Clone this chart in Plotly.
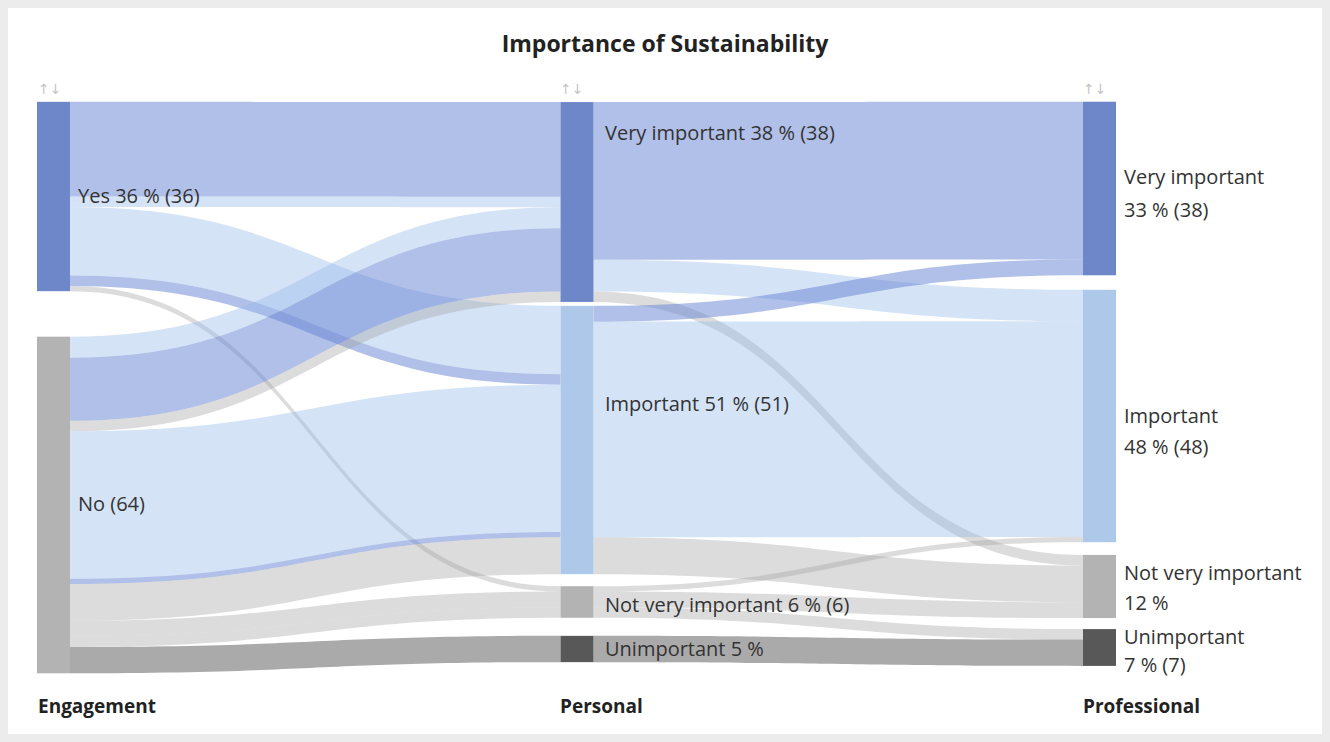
import plotly.graph_objects as go

W, H = 1330, 742

# ---------------- data ----------------
engagement = ["Yes", "No"]
personal = ["Very important", "Important", "Not very important", "Unimportant"]
professional = ["Very important", "Important", "Not very important", "Unimportant"]

# respondents' paths: engagement -> personal -> professional
path_engagement = ["Yes", "Yes", "Yes", "Yes", "Yes",
                   "No", "No", "No", "No", "No", "No", "No", "No", "No"]
path_personal = ["Very important", "Very important", "Important", "Important", "Not very important",
                 "Very important", "Very important", "Very important", "Important", "Important",
                 "Important", "Not very important", "Not very important", "Unimportant"]
path_professional = ["Very important", "Important", "Important", "Very important", "Important",
                     "Important", "Very important", "Not very important", "Important", "Very important",
                     "Not very important", "Not very important", "Unimportant", "Unimportant"]
path_count = [18, 2, 13, 2, 1,
              4, 12, 2, 28, 1, 7, 3, 2, 5]

# node label texts
engagement_labels = ["Yes 36 % (36)", "No (64)"]
personal_labels = ["Very important 38 % (38)", "Important 51 % (51)",
                   "Not very important 6 % (6)", "Unimportant 5 %"]
professional_labels_1 = ["Very important", "Important", "Not very important", "Unimportant"]
professional_labels_2 = ["33 % (38)", "48 % (48)", "12 %", "7 % (7)"]
dimension_labels = ["Engagement", "Personal", "Professional"]
title_text = "Importance of Sustainability"

# ---------------- styles ----------------
node_colors_eng = ["#6d87c9", "#b3b3b3"]
node_colors_cat = ["#6d87c9", "#aec8ea", "#b3b3b3", "#585858"]
link_colors_cat = ["rgba(100,130,210,0.5)", "rgba(150,185,235,0.4)",
                   "rgba(160,160,160,0.37)", "rgba(100,100,100,0.55)"]

# pixel layout of the diagram
dom_left, dom_right, dom_top, dom_bottom = 37, 1116, 102, 673
col_centers_px = [53.5, 577, 1099.5]
eng_centers_px = [196.5, 505]
pers_centers_px = [202, 440, 602, 649]
prof_centers_px = [188.5, 416, 586.5, 647.5]

dw = dom_right - dom_left
dh = dom_bottom - dom_top

n_e, n_p = len(engagement), len(personal)
idx_eng = {c: i for i, c in enumerate(engagement)}
idx_pers = {c: n_e + i for i, c in enumerate(personal)}
idx_prof = {c: n_e + n_p + i for i, c in enumerate(professional)}


def path_color(pers, prof):
    if pers == "Not very important":
        return link_colors_cat[2]
    return link_colors_cat[professional.index(prof)]


src, tgt, val, col = [], [], [], []
# segment 1: engagement -> personal (one band per path)
for e, p, q, c in zip(path_engagement, path_personal, path_professional, path_count):
    src.append(idx_eng[e]); tgt.append(idx_pers[p]); val.append(c); col.append(path_color(p, q))
# segment 2: personal -> professional (aggregated)
agg = {}
for e, p, q, c in zip(path_engagement, path_personal, path_professional, path_count):
    agg[(p, q)] = agg.get((p, q), 0) + c
for (p, q), c in sorted(agg.items(), key=lambda kv: (personal.index(kv[0][0]), professional.index(kv[0][1]))):
    src.append(idx_pers[p]); tgt.append(idx_prof[q]); val.append(c); col.append(path_color(p, q))

node_x = ([(col_centers_px[0] - dom_left) / dw] * n_e +
          [(col_centers_px[1] - dom_left) / dw] * n_p +
          [(col_centers_px[2] - dom_left) / dw] * len(professional))
node_y = ([(c - dom_top) / dh for c in eng_centers_px] +
          [(c - dom_top) / dh for c in pers_centers_px] +
          [(c - dom_top) / dh for c in prof_centers_px])

fig = go.Figure(go.Sankey(
    arrangement="fixed",
    domain=dict(x=[dom_left / W, dom_right / W], y=[1 - dom_bottom / H, 1 - dom_top / H]),
    node=dict(
        label=[""] * (n_e + n_p + len(professional)),
        customdata=engagement + personal + professional,
        hovertemplate="%{customdata}: %{value}<extra></extra>",
        color=node_colors_eng + node_colors_cat + node_colors_cat,
        x=node_x, y=node_y,
        pad=15, thickness=33,
        line=dict(width=0),
    ),
    link=dict(source=src, target=tgt, value=val, color=col,
              line=dict(width=0)),
))

annotations = []
FONT = "Open Sans"
TXT = "#333333"


def ann(text, x, y, size=20, bold=False, color=TXT, xanchor="left", family=FONT):
    annotations.append(dict(
        text=f"<b>{text}</b>" if bold else text,
        x=x / W, y=1 - y / H, xref="paper", yref="paper",
        xanchor=xanchor, yanchor="middle", showarrow=False,
        font=dict(family=family, size=size, color=color)))


# category labels
label_x = [76, 603, 1122]
eng_label_y = [196, 503]
pers_label_y = [133, 403, 604, 648]
prof_label_y1 = [176, 415, 572, 636]
prof_label_y2 = [210, 446, 602, 664]
for t, y in zip(engagement_labels, eng_label_y):
    ann(t, label_x[0], y)
for t, y in zip(personal_labels, pers_label_y):
    ann(t, label_x[1], y)
for t1, t2, y1, y2 in zip(professional_labels_1, professional_labels_2, prof_label_y1, prof_label_y2):
    ann(t1, label_x[2], y1)
    ann(t2, label_x[2], y2)

# dimension labels and sort handles
dim_x = [36, 558, 1081]
for t, x in zip(dimension_labels, dim_x):
    ann(t, x, 706, size=19, bold=True, color="#222222")
    ann("↑↓", x, 89, size=14, color="#c4c4c4", family="DejaVu Sans")

fig.update_layout(
    width=W, height=H,
    margin=dict(l=0, r=0, t=0, b=0),
    paper_bgcolor="white",
    font=dict(family=FONT, color=TXT),
    title=dict(text=f"<b>{title_text}</b>", x=0.5, xanchor="center",
               y=1 - 44 / H, yanchor="middle",
               font=dict(family=FONT, size=23, color="#222222")),
    annotations=annotations,
    shapes=[dict(type="rect", xref="paper", yref="paper", x0=0, y0=0, x1=1, y1=1,
                 line=dict(color="#ececec", width=16), fillcolor="rgba(0,0,0,0)")],
)

fig.write_html("out.html")
